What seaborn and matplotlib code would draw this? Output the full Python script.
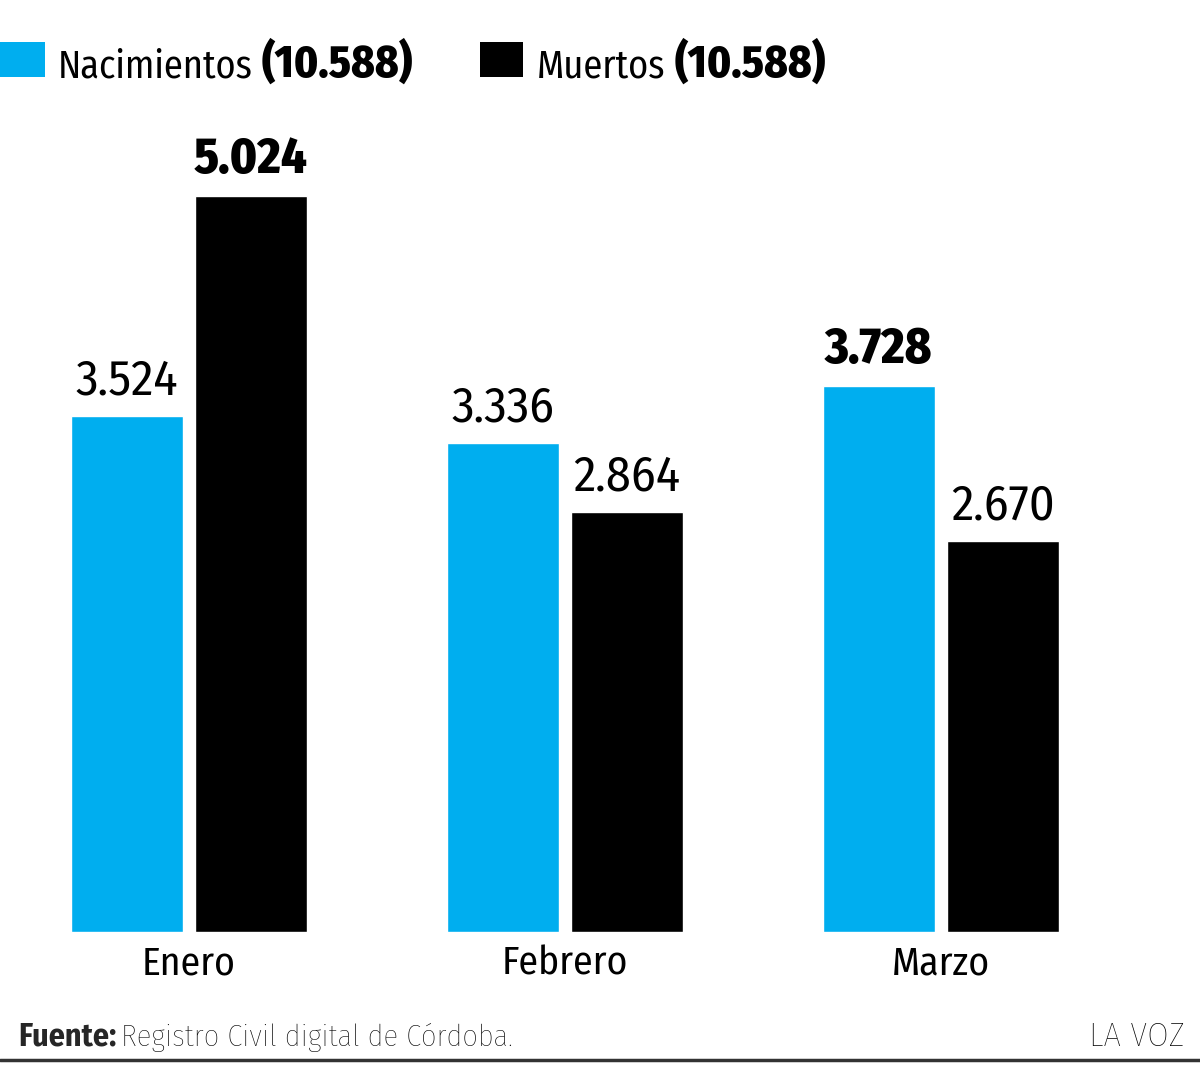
import matplotlib
matplotlib.use("Agg")
import matplotlib.pyplot as plt
from matplotlib import font_manager
from matplotlib.patches import Rectangle
from matplotlib.lines import Line2D
import pandas as pd
import seaborn as sns

# datos (Registro Civil digital de Córdoba)
meses = ["Enero", "Febrero", "Marzo"]
series = ["Nacimientos", "Muertos"]
nacimientos = [3524, 3336, 3728]
muertos = [5024, 2864, 2670]
totales_leyenda = ["10.588", "10.588"]
colores = ["#00AEEF", "#000000"]

W, H = 1200, 1066

sns.set_theme(style="white")
disponibles = {f.name for f in font_manager.fontManager.ttflist}
if "Fira Sans Condensed" in disponibles:
    FAM = ["Fira Sans Condensed", "DejaVu Sans"]
    k = 1.0
else:
    FAM = ["DejaVu Sans"]
    k = 0.8
plt.rcParams["font.family"] = FAM


def fy(px):
    # pixel desde arriba -> fraccion de figura
    return 1 - px / H


def fmt(v):
    return f"{v:,}".replace(",", ".")


df = pd.DataFrame({
    "mes": meses * 2,
    "serie": [series[0]] * 3 + [series[1]] * 3,
    "valor": nacimientos + muertos,
})

fig = plt.figure(figsize=(W / 100, H / 100), dpi=100)
fig.patch.set_facecolor("white")

# eje: base de barras en y=932px, 5024 llega a y=196px
top_px = 100
ax = fig.add_axes([0, fy(932), 1, (932 - top_px) / H])
sns.barplot(data=df, x="mes", y="valor", hue="serie", order=meses, hue_order=series,
            palette=colores, saturation=1, width=0.66, gap=0.1, legend=False, ax=ax)
ax.set_ylim(0, (932 - top_px) * max(muertos) / (932 - 196))
ax.set_xlim(-189 / 376, (W - 189) / 376)
ax.set_xlabel("")
ax.set_ylabel("")
ax.set_yticks([])
sns.despine(ax=ax, left=True, bottom=True)
ax.tick_params(axis="x", length=0, pad=10, labelsize=28.5 * k, labelcolor="black")
ax.set_facecolor("none")

# etiquetas de valor, en negrita el maximo de cada serie
for cont, vals in zip(ax.containers, [nacimientos, muertos]):
    textos = ax.bar_label(cont, labels=[fmt(v) for v in vals], padding=8,
                          fontsize=36 * k, color="black")
    for t, v in zip(textos, vals):
        if v == max(vals):
            t.set_fontweight("heavy")

# leyenda
sq = [(0, 45), (480, 523)]
tx = [58, 537]
regs, bolds = [], []
for i in range(2):
    x0, x1 = sq[i]
    fig.patches.append(Rectangle((x0 / W, fy(77)), (x1 - x0) / W, 35 / H,
                                 transform=fig.transFigure, color=colores[i], lw=0))
    regs.append(fig.text(tx[i] / W, fy(77), series[i], fontsize=27.5 * k,
                         va="baseline", color="black"))
    bolds.append(fig.text(0, fy(77), f"({totales_leyenda[i]})", fontsize=32 * k,
                          fontweight="heavy", color="black", va="baseline"))

# parte en negrita justo despues del texto regular
fig.canvas.draw()
r = fig.canvas.get_renderer()
for tr, tb in zip(regs, bolds):
    bb = tr.get_window_extent(r)
    tb.set_x((bb.x1 + 9) / W)

# pie
f1 = fig.text(18 / W, fy(1046), "Fuente:", fontsize=23 * k, fontweight="bold", va="baseline")
fig.canvas.draw()
bb = f1.get_window_extent(r)
fig.text((bb.x1 + 5) / W, fy(1046), "Registro Civil digital de Córdoba.", fontsize=22 * k,
         fontweight="light", va="baseline", color="black")
fig.text(1185 / W, fy(1046), "LA VOZ", fontsize=25 * k, fontweight="light", va="baseline",
         ha="right", color="black")
fig.lines.append(Line2D([0, 1], [fy(1060), fy(1060)], transform=fig.transFigure,
                        color="#333333", lw=2.5))

fig.savefig("out.png", dpi=100, facecolor="white")
